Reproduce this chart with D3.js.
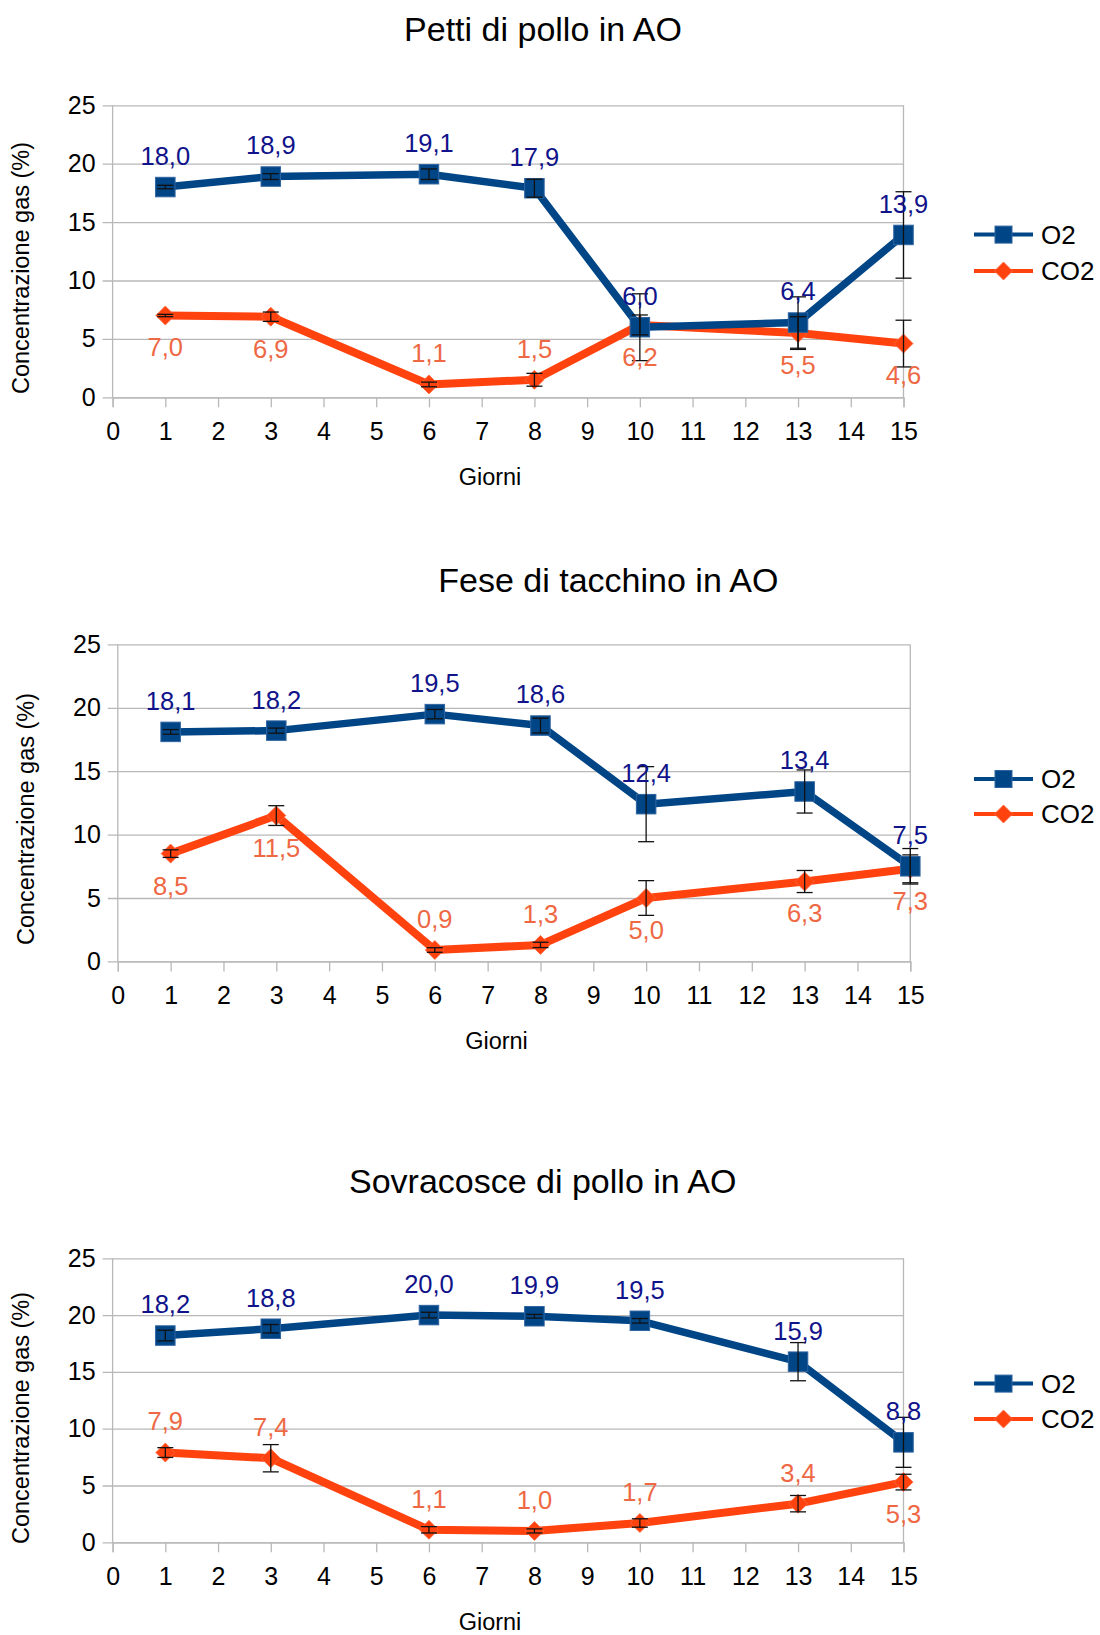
<!DOCTYPE html>
<html>
<head>
<meta charset="utf-8">
<script src="https://cdn.jsdelivr.net/npm/d3@7"></script>
<style>
  html, body { margin: 0; padding: 0; background: #ffffff; }
  svg { display: block; font-family: "Liberation Sans", Arial, sans-serif; }
</style>
</head>
<body>
<svg id="chart" width="1100" height="1635"></svg>
<script>
// Sampling days and axis ticks
const days = [1, 3, 6, 8, 10, 13, 15];
const xTickValues = [0, 1, 2, 3, 4, 5, 6, 7, 8, 9, 10, 11, 12, 13, 14, 15];
const yTickValues = [0, 5, 10, 15, 20, 25];
const seriesNames = ["O2", "CO2"];

// Petti di pollo in AO
const pettiO2 = [18.0, 18.9, 19.1, 17.9, 6.0, 6.4, 13.9];
const pettiO2Err = [0.15, 0.25, 0.45, 0.77, 2.86, 2.2, 3.7];
const pettiCO2 = [7.0, 6.9, 1.1, 1.5, 6.2, 5.5, 4.6];
const pettiCO2Err = [0.1, 0.4, 0.2, 0.55, 0.85, 1.4, 2.0];

// Fese di tacchino in AO
const feseO2 = [18.1, 18.2, 19.5, 18.6, 12.4, 13.4, 7.5];
const feseO2Err = [0.18, 0.2, 0.37, 0.58, 2.96, 1.7, 1.4];
const feseCO2 = [8.5, 11.5, 0.9, 1.3, 5.0, 6.3, 7.3];
const feseCO2Err = [0.3, 0.78, 0.18, 0.21, 1.37, 0.87, 1.1];

// Sovracosce di pollo in AO
const sovraO2 = [18.2, 18.8, 20.0, 19.9, 19.5, 15.9, 8.8];
const sovraO2Err = [0.47, 0.37, 0.25, 0.16, 0.2, 1.68, 2.2];
const sovraCO2 = [7.9, 7.4, 1.1, 1.0, 1.7, 3.4, 5.3];
const sovraCO2Err = [0.43, 1.2, 0.28, 0.18, 0.37, 0.72, 0.69];

// Which side of the point each CO2 value label sits on
const pettiCO2Side = ["below", "below", "above", "above", "below", "below", "below"];
const feseCO2Side = ["below", "below", "above", "above", "below", "below", "below"];
const sovraCO2Side = ["above", "above", "above", "above", "above", "above", "below"];

const COLORS = { O2: "#004586", CO2: "#ff420e" };
const LABEL_COLORS = { O2: "#10138a", CO2: "#ee6844" };
const GRID = "#b8b8b8";

const panels = [
  { title: "Petti di pollo in AO", o2: pettiO2, o2Err: pettiO2Err, co2: pettiCO2, co2Err: pettiCO2Err, co2Side: pettiCO2Side,
    left: 112.6, right: 903.5, top: 105.3, bottom: 397.3, titleX: 543, titleY: 29, yTitleX: 21, yTitleY: 268, giorniX: 490, legendY: [234.6, 271] },
  { title: "Fese di tacchino in AO", o2: feseO2, o2Err: feseO2Err, co2: feseCO2, co2Err: feseCO2Err, co2Side: feseCO2Side,
    left: 117.8, right: 910.3, top: 644.4, bottom: 961.4, titleX: 608.4, titleY: 580, yTitleX: 26, yTitleY: 819, giorniX: 496.5, legendY: [779, 814] },
  { title: "Sovracosce di pollo in AO", o2: sovraO2, o2Err: sovraO2Err, co2: sovraCO2, co2Err: sovraCO2Err, co2Side: sovraCO2Side,
    left: 112.6, right: 903.5, top: 1258.3, bottom: 1542.3, titleX: 542.7, titleY: 1181.3, yTitleX: 21, yTitleY: 1418, giorniX: 490, legendY: [1383.6, 1419] }
];

const svg = d3.select("#chart");
svg.append("rect").attr("width", 1100).attr("height", 1635).attr("fill", "#ffffff");

const fmt = v => d3.format(".1f")(v).replace(".", ",");

function diamondPath(r) {
  return `M0,${-r}L${r},0L0,${r}L${-r},0Z`;
}

function drawMarker(g, name, cx, cy, size) {
  if (name === "O2") {
    g.append("rect")
      .attr("x", cx - size / 2).attr("y", cy - size / 2)
      .attr("width", size).attr("height", size)
      .attr("fill", COLORS.O2).attr("stroke", "#2f64a0").attr("stroke-width", 1);
  } else {
    g.append("path")
      .attr("d", diamondPath(size / 2 + 0.5))
      .attr("transform", `translate(${cx},${cy})`)
      .attr("fill", COLORS.CO2).attr("stroke", "#ff6a40").attr("stroke-width", 0.8);
  }
}

panels.forEach(p => {
  const x = d3.scaleLinear().domain([0, 15]).range([p.left, p.right]);
  const y = d3.scaleLinear().domain([0, 25]).range([p.bottom, p.top]);
  const g = svg.append("g");

  // Title
  g.append("text")
    .attr("x", p.titleX).attr("y", p.titleY).attr("dy", "0.35em")
    .attr("text-anchor", "middle").attr("font-size", 34).attr("fill", "#000")
    .text(p.title);

  // Horizontal gridlines with left ticks
  const yAxis = d3.axisLeft(y).tickValues(yTickValues)
    .tickSize(p.right - p.left + 10).tickPadding(7).tickFormat(d3.format("d"));
  const gy = g.append("g")
    .attr("transform", `translate(${p.right},0)`)
    .call(yAxis);
  gy.select(".domain").remove();
  gy.selectAll(".tick line").attr("stroke", GRID).attr("stroke-width", 1.3);
  gy.selectAll(".tick text").attr("font-size", 25).attr("fill", "#000")
    .attr("font-family", "Liberation Sans, Arial, sans-serif");

  // Left axis line and right frame
  g.append("line").attr("x1", p.left).attr("x2", p.left).attr("y1", p.top).attr("y2", p.bottom)
    .attr("stroke", GRID).attr("stroke-width", 1.3);
  g.append("line").attr("x1", p.right).attr("x2", p.right).attr("y1", p.top).attr("y2", p.bottom)
    .attr("stroke", GRID).attr("stroke-width", 1.3);

  // X axis ticks and labels
  const xAxis = d3.axisBottom(x).tickValues(xTickValues).tickSize(10).tickPadding(15).tickFormat(d3.format("d"));
  const gx = g.append("g").attr("transform", `translate(0,${p.bottom})`).call(xAxis);
  gx.select(".domain").attr("stroke", GRID).attr("stroke-width", 1.3);
  gx.selectAll(".tick line").attr("stroke", GRID).attr("stroke-width", 1.3);
  gx.selectAll(".tick text").attr("font-size", 25).attr("fill", "#000")
    .attr("font-family", "Liberation Sans, Arial, sans-serif");

  // Axis titles
  g.append("text")
    .attr("x", p.giorniX).attr("y", p.bottom + 79).attr("dy", "0.35em")
    .attr("text-anchor", "middle").attr("font-size", 23.5).attr("fill", "#000")
    .text("Giorni");
  g.append("text")
    .attr("transform", `translate(${p.yTitleX},${p.yTitleY}) rotate(-90)`)
    .attr("dy", "0.35em").attr("text-anchor", "middle").attr("font-size", 23.5).attr("fill", "#000")
    .text("Concentrazione gas (%)");

  const series = [
    { name: "CO2", values: p.co2, err: p.co2Err, side: p.co2Side },
    { name: "O2", values: p.o2, err: p.o2Err, side: days.map(() => "above") }
  ];

  const line = d3.line().x(d => x(d[0])).y(d => y(d[1]));

  // Lines and markers (CO2 beneath O2)
  series.forEach(s => {
    const pts = days.map((d, i) => [d, s.values[i]]);
    g.append("path").attr("d", line(pts))
      .attr("fill", "none").attr("stroke", COLORS[s.name])
      .attr("stroke-width", s.name === "O2" ? 7.5 : 8)
      .attr("stroke-linejoin", "round").attr("stroke-linecap", "butt");
    const mg = g.append("g");
    pts.forEach(pt => drawMarker(mg, s.name, x(pt[0]), y(pt[1]), s.name === "O2" ? 19.5 : 18));
  });

  // Error bars
  series.forEach(s => {
    days.forEach((d, i) => {
      const cx = x(d);
      const y1 = y(s.values[i] - s.err[i]);
      const y2 = y(s.values[i] + s.err[i]);
      const eb = g.append("g").attr("stroke", "#111").attr("stroke-width", 1.3);
      eb.append("line").attr("x1", cx).attr("x2", cx).attr("y1", y1).attr("y2", y2);
      eb.append("line").attr("x1", cx - 8).attr("x2", cx + 8).attr("y1", y1).attr("y2", y1);
      eb.append("line").attr("x1", cx - 8).attr("x2", cx + 8).attr("y1", y2).attr("y2", y2);
    });
  });

  // Value labels
  series.forEach(s => {
    days.forEach((d, i) => {
      const cy = y(s.values[i]);
      const ly = s.side[i] === "above" ? cy - 31 : cy + 32;
      g.append("text")
        .attr("x", x(d)).attr("y", ly).attr("dy", "0.35em")
        .attr("text-anchor", "middle").attr("font-size", 25.5)
        .attr("fill", LABEL_COLORS[s.name])
        .text(fmt(s.values[i]));
    });
  });

  // Legend
  seriesNames.forEach((name, i) => {
    const ly = p.legendY[i];
    const lg = g.append("g");
    lg.append("line").attr("x1", 974).attr("x2", 1033).attr("y1", ly).attr("y2", ly)
      .attr("stroke", COLORS[name]).attr("stroke-width", 4);
    drawMarker(lg, name, 1003.5, ly, 17);
    lg.append("text").attr("x", 1041).attr("y", ly).attr("dy", "0.35em")
      .attr("font-size", 26).attr("fill", "#000").text(name);
  });
});
</script>
</body>
</html>
